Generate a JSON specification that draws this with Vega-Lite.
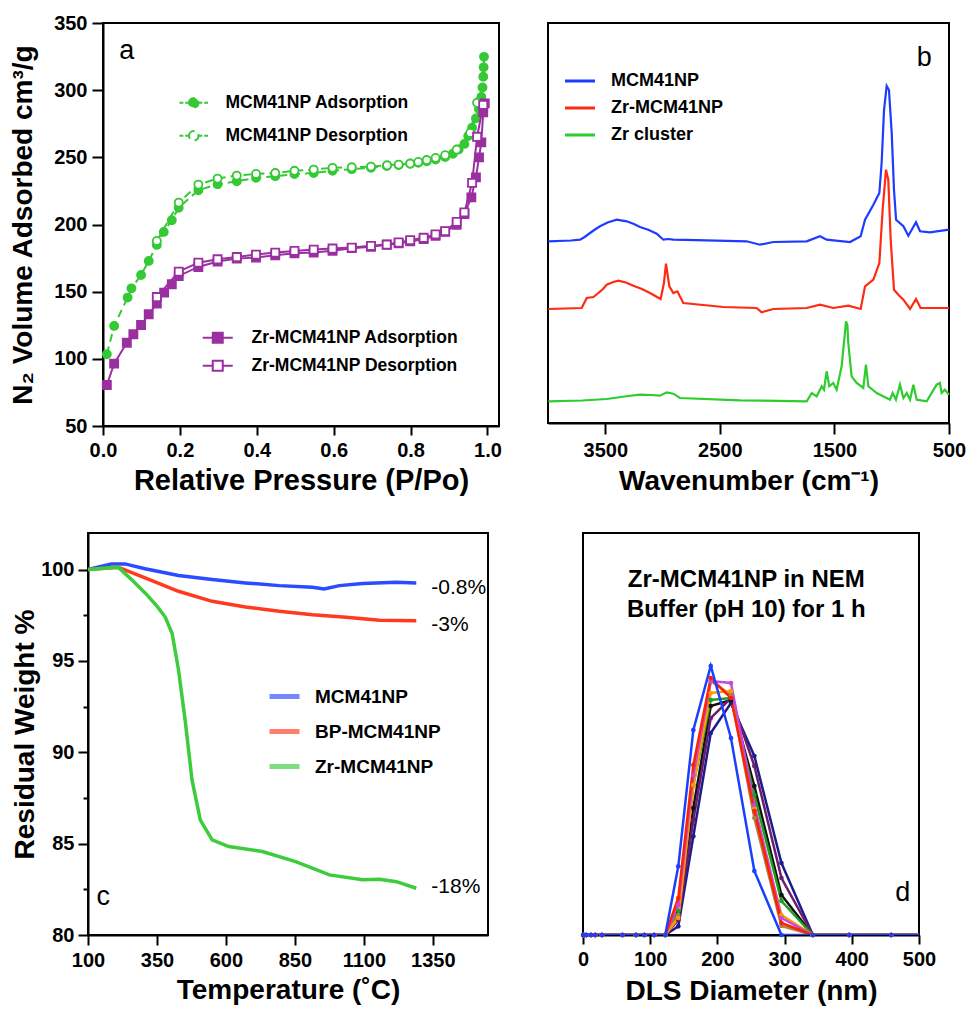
{
"$schema": "https://vega.github.io/schema/vega-lite/v6.json",
"background": "white",
"padding": {"left": 8, "top": 12, "right": 5, "bottom": 5},
"config": {
  "font": "Liberation Sans",
  "view": {"stroke": "black", "strokeWidth": 2},
  "axis": {"labelFont": "Liberation Sans", "labelFontSize": 20, "labelFontWeight": "bold", "labelColor": "black", "titleFont": "Liberation Sans", "titleFontSize": 28, "titleFontWeight": "bold", "titleColor": "black", "domainColor": "black", "domainWidth": 2, "tickColor": "black", "tickWidth": 2, "tickSize": 10, "grid": false, "labelFlush": false, "labelOverlap": false, "labelPadding": 4, "titlePadding": 6},
  "legend": {"labelFont": "Liberation Sans", "labelFontWeight": "bold", "labelColor": "black", "padding": 0, "labelLimit": 400}
},
"datasets": {
  "iso": [
    {"s":"MCM41NP Adsorption","P":0.01,"V":103.4},{"s":"MCM41NP Adsorption","P":0.029,"V":124.5},{"s":"MCM41NP Adsorption","P":0.064,"V":145.6},{"s":"MCM41NP Adsorption","P":0.074,"V":152.5},{"s":"MCM41NP Adsorption","P":0.099,"V":162.4},{"s":"MCM41NP Adsorption","P":0.119,"V":172.9},{"s":"MCM41NP Adsorption","P":0.14,"V":184.8},{"s":"MCM41NP Adsorption","P":0.158,"V":194.5},{"s":"MCM41NP Adsorption","P":0.179,"V":203.2},{"s":"MCM41NP Adsorption","P":0.197,"V":212.5},{"s":"MCM41NP Adsorption","P":0.248,"V":225.5},{"s":"MCM41NP Adsorption","P":0.298,"V":230},{"s":"MCM41NP Adsorption","P":0.348,"V":232.2},{"s":"MCM41NP Adsorption","P":0.398,"V":234.7},{"s":"MCM41NP Adsorption","P":0.448,"V":236},{"s":"MCM41NP Adsorption","P":0.498,"V":237.5},{"s":"MCM41NP Adsorption","P":0.548,"V":238.3},{"s":"MCM41NP Adsorption","P":0.597,"V":240},{"s":"MCM41NP Adsorption","P":0.647,"V":241.2},{"s":"MCM41NP Adsorption","P":0.697,"V":242.2},{"s":"MCM41NP Adsorption","P":0.738,"V":243.5},{"s":"MCM41NP Adsorption","P":0.769,"V":244.3},{"s":"MCM41NP Adsorption","P":0.799,"V":245.2},{"s":"MCM41NP Adsorption","P":0.82,"V":246},{"s":"MCM41NP Adsorption","P":0.842,"V":247.1},{"s":"MCM41NP Adsorption","P":0.865,"V":248.4},{"s":"MCM41NP Adsorption","P":0.89,"V":250.2},{"s":"MCM41NP Adsorption","P":0.91,"V":252.7},{"s":"MCM41NP Adsorption","P":0.925,"V":255.8},{"s":"MCM41NP Adsorption","P":0.94,"V":260},{"s":"MCM41NP Adsorption","P":0.95,"V":265.8},{"s":"MCM41NP Adsorption","P":0.96,"V":272},{"s":"MCM41NP Adsorption","P":0.97,"V":279},{"s":"MCM41NP Adsorption","P":0.978,"V":286},{"s":"MCM41NP Adsorption","P":0.984,"V":295},{"s":"MCM41NP Adsorption","P":0.987,"V":302},{"s":"MCM41NP Adsorption","P":0.989,"V":310},{"s":"MCM41NP Adsorption","P":0.99,"V":317},{"s":"MCM41NP Adsorption","P":0.991,"V":324.8},
    {"s":"MCM41NP Desorption","P":0.14,"V":187.8},{"s":"MCM41NP Desorption","P":0.197,"V":216.3},{"s":"MCM41NP Desorption","P":0.248,"V":229.7},{"s":"MCM41NP Desorption","P":0.298,"V":234.2},{"s":"MCM41NP Desorption","P":0.348,"V":236.4},{"s":"MCM41NP Desorption","P":0.398,"V":237.6},{"s":"MCM41NP Desorption","P":0.448,"V":238.3},{"s":"MCM41NP Desorption","P":0.498,"V":240},{"s":"MCM41NP Desorption","P":0.548,"V":240.9},{"s":"MCM41NP Desorption","P":0.597,"V":242.2},{"s":"MCM41NP Desorption","P":0.647,"V":242.6},{"s":"MCM41NP Desorption","P":0.697,"V":243.1},{"s":"MCM41NP Desorption","P":0.739,"V":244.1},{"s":"MCM41NP Desorption","P":0.769,"V":244.6},{"s":"MCM41NP Desorption","P":0.799,"V":245.4},{"s":"MCM41NP Desorption","P":0.82,"V":246.6},{"s":"MCM41NP Desorption","P":0.842,"V":248},{"s":"MCM41NP Desorption","P":0.865,"V":249.6},{"s":"MCM41NP Desorption","P":0.89,"V":251.6},{"s":"MCM41NP Desorption","P":0.92,"V":255.8},{"s":"MCM41NP Desorption","P":0.955,"V":268.2},{"s":"MCM41NP Desorption","P":0.973,"V":290.6},
    {"s":"Zr-MCM41NP Adsorption","P":0.01,"V":80.5},{"s":"Zr-MCM41NP Adsorption","P":0.029,"V":96.4},{"s":"Zr-MCM41NP Adsorption","P":0.062,"V":112},{"s":"Zr-MCM41NP Adsorption","P":0.079,"V":118.3},{"s":"Zr-MCM41NP Adsorption","P":0.099,"V":125.2},{"s":"Zr-MCM41NP Adsorption","P":0.119,"V":133.2},{"s":"Zr-MCM41NP Adsorption","P":0.14,"V":141.1},{"s":"Zr-MCM41NP Adsorption","P":0.159,"V":149.3},{"s":"Zr-MCM41NP Adsorption","P":0.179,"V":155.5},{"s":"Zr-MCM41NP Adsorption","P":0.197,"V":161.7},{"s":"Zr-MCM41NP Adsorption","P":0.248,"V":168.4},{"s":"Zr-MCM41NP Adsorption","P":0.298,"V":172.4},{"s":"Zr-MCM41NP Adsorption","P":0.348,"V":174.6},{"s":"Zr-MCM41NP Adsorption","P":0.398,"V":175.4},{"s":"Zr-MCM41NP Adsorption","P":0.448,"V":177.1},{"s":"Zr-MCM41NP Adsorption","P":0.498,"V":178.6},{"s":"Zr-MCM41NP Adsorption","P":0.548,"V":179.1},{"s":"Zr-MCM41NP Adsorption","P":0.597,"V":180.4},{"s":"Zr-MCM41NP Adsorption","P":0.647,"V":182.4},{"s":"Zr-MCM41NP Adsorption","P":0.697,"V":183.4},{"s":"Zr-MCM41NP Adsorption","P":0.738,"V":184.9},{"s":"Zr-MCM41NP Adsorption","P":0.769,"V":185.9},{"s":"Zr-MCM41NP Adsorption","P":0.799,"V":187.4},{"s":"Zr-MCM41NP Adsorption","P":0.834,"V":189.1},{"s":"Zr-MCM41NP Adsorption","P":0.865,"V":191.6},{"s":"Zr-MCM41NP Adsorption","P":0.89,"V":194.6},{"s":"Zr-MCM41NP Adsorption","P":0.92,"V":199.8},{"s":"Zr-MCM41NP Adsorption","P":0.94,"V":207.8},{"s":"Zr-MCM41NP Adsorption","P":0.958,"V":220.2},{"s":"Zr-MCM41NP Adsorption","P":0.97,"V":235.1},{"s":"Zr-MCM41NP Adsorption","P":0.978,"V":250},{"s":"Zr-MCM41NP Adsorption","P":0.984,"V":261.1},{"s":"Zr-MCM41NP Adsorption","P":0.989,"V":283.5},{"s":"Zr-MCM41NP Adsorption","P":0.993,"V":290.2},
    {"s":"Zr-MCM41NP Desorption","P":0.14,"V":146},{"s":"Zr-MCM41NP Desorption","P":0.197,"V":164.9},{"s":"Zr-MCM41NP Desorption","P":0.248,"V":171.6},{"s":"Zr-MCM41NP Desorption","P":0.298,"V":174.1},{"s":"Zr-MCM41NP Desorption","P":0.348,"V":175.8},{"s":"Zr-MCM41NP Desorption","P":0.398,"V":177.6},{"s":"Zr-MCM41NP Desorption","P":0.448,"V":179.1},{"s":"Zr-MCM41NP Desorption","P":0.498,"V":180.3},{"s":"Zr-MCM41NP Desorption","P":0.548,"V":181.3},{"s":"Zr-MCM41NP Desorption","P":0.597,"V":182.1},{"s":"Zr-MCM41NP Desorption","P":0.647,"V":182.8},{"s":"Zr-MCM41NP Desorption","P":0.697,"V":184.1},{"s":"Zr-MCM41NP Desorption","P":0.738,"V":185.1},{"s":"Zr-MCM41NP Desorption","P":0.769,"V":186.6},{"s":"Zr-MCM41NP Desorption","P":0.799,"V":188.3},{"s":"Zr-MCM41NP Desorption","P":0.834,"V":190.1},{"s":"Zr-MCM41NP Desorption","P":0.865,"V":192.6},{"s":"Zr-MCM41NP Desorption","P":0.89,"V":195},{"s":"Zr-MCM41NP Desorption","P":0.92,"V":202},{"s":"Zr-MCM41NP Desorption","P":0.94,"V":209},{"s":"Zr-MCM41NP Desorption","P":0.96,"V":231},{"s":"Zr-MCM41NP Desorption","P":0.973,"V":265.3},{"s":"Zr-MCM41NP Desorption","P":0.989,"V":289}
  ],
  "ftir": [
    {"s":"MCM41NP","wn":3997,"v":181.7},{"s":"MCM41NP","wn":3800,"v":182.5},{"s":"MCM41NP","wn":3720,"v":183.3},{"s":"MCM41NP","wn":3680,"v":186},{"s":"MCM41NP","wn":3633,"v":190},{"s":"MCM41NP","wn":3590,"v":193.5},{"s":"MCM41NP","wn":3546,"v":196.7},{"s":"MCM41NP","wn":3480,"v":200.5},{"s":"MCM41NP","wn":3400,"v":203.3},{"s":"MCM41NP","wn":3313,"v":201.7},{"s":"MCM41NP","wn":3250,"v":199},{"s":"MCM41NP","wn":3197,"v":196},{"s":"MCM41NP","wn":3120,"v":193},{"s":"MCM41NP","wn":3051,"v":189.3},{"s":"MCM41NP","wn":2993,"v":183.3},{"s":"MCM41NP","wn":2950,"v":184},{"s":"MCM41NP","wn":2906,"v":183.3},{"s":"MCM41NP","wn":2615,"v":182.7},{"s":"MCM41NP","wn":2266,"v":181.7},{"s":"MCM41NP","wn":2150,"v":178.3},{"s":"MCM41NP","wn":2033,"v":181},{"s":"MCM41NP","wn":1742,"v":181.7},{"s":"MCM41NP","wn":1626,"v":186.7},{"s":"MCM41NP","wn":1568,"v":183.3},{"s":"MCM41NP","wn":1364,"v":181},{"s":"MCM41NP","wn":1271,"v":186.7},{"s":"MCM41NP","wn":1233,"v":203.3},{"s":"MCM41NP","wn":1160,"v":218.3},{"s":"MCM41NP","wn":1108,"v":230},{"s":"MCM41NP","wn":1088,"v":260},{"s":"MCM41NP","wn":1067,"v":313},{"s":"MCM41NP","wn":1044,"v":337},{"s":"MCM41NP","wn":1024,"v":333},{"s":"MCM41NP","wn":1000,"v":290},{"s":"MCM41NP","wn":980,"v":233},{"s":"MCM41NP","wn":962,"v":203.3},{"s":"MCM41NP","wn":898,"v":196.7},{"s":"MCM41NP","wn":855,"v":187.3},{"s":"MCM41NP","wn":788,"v":200.7},{"s":"MCM41NP","wn":753,"v":191.7},{"s":"MCM41NP","wn":666,"v":190.7},{"s":"MCM41NP","wn":500,"v":193.3},
    {"s":"Zr-MCM41NP","wn":3997,"v":114},{"s":"Zr-MCM41NP","wn":3706,"v":115},{"s":"Zr-MCM41NP","wn":3662,"v":125},{"s":"Zr-MCM41NP","wn":3604,"v":126},{"s":"Zr-MCM41NP","wn":3560,"v":130},{"s":"Zr-MCM41NP","wn":3520,"v":134},{"s":"Zr-MCM41NP","wn":3488,"v":138.3},{"s":"Zr-MCM41NP","wn":3430,"v":141},{"s":"Zr-MCM41NP","wn":3386,"v":142.3},{"s":"Zr-MCM41NP","wn":3320,"v":140.5},{"s":"Zr-MCM41NP","wn":3255,"v":137.3},{"s":"Zr-MCM41NP","wn":3180,"v":134},{"s":"Zr-MCM41NP","wn":3110,"v":130},{"s":"Zr-MCM41NP","wn":3017,"v":124},{"s":"Zr-MCM41NP","wn":2988,"v":140},{"s":"Zr-MCM41NP","wn":2970,"v":159.3},{"s":"Zr-MCM41NP","wn":2941,"v":136.7},{"s":"Zr-MCM41NP","wn":2906,"v":130},{"s":"Zr-MCM41NP","wn":2871,"v":131.7},{"s":"Zr-MCM41NP","wn":2819,"v":120},{"s":"Zr-MCM41NP","wn":2470,"v":116},{"s":"Zr-MCM41NP","wn":2179,"v":115},{"s":"Zr-MCM41NP","wn":2135,"v":110.7},{"s":"Zr-MCM41NP","wn":2033,"v":114},{"s":"Zr-MCM41NP","wn":1742,"v":115},{"s":"Zr-MCM41NP","wn":1626,"v":118.3},{"s":"Zr-MCM41NP","wn":1510,"v":115},{"s":"Zr-MCM41NP","wn":1379,"v":117.3},{"s":"Zr-MCM41NP","wn":1271,"v":114},{"s":"Zr-MCM41NP","wn":1233,"v":136.7},{"s":"Zr-MCM41NP","wn":1160,"v":143.3},{"s":"Zr-MCM41NP","wn":1108,"v":160},{"s":"Zr-MCM41NP","wn":1079,"v":213.3},{"s":"Zr-MCM41NP","wn":1050,"v":253.3},{"s":"Zr-MCM41NP","wn":1030,"v":243.3},{"s":"Zr-MCM41NP","wn":1009,"v":183.3},{"s":"Zr-MCM41NP","wn":980,"v":133.3},{"s":"Zr-MCM41NP","wn":942,"v":128.3},{"s":"Zr-MCM41NP","wn":898,"v":123.3},{"s":"Zr-MCM41NP","wn":840,"v":114},{"s":"Zr-MCM41NP","wn":788,"v":124},{"s":"Zr-MCM41NP","wn":748,"v":115},{"s":"Zr-MCM41NP","wn":500,"v":115},
    {"s":"Zr cluster","wn":3997,"v":21.7},{"s":"Zr cluster","wn":3700,"v":22.5},{"s":"Zr cluster","wn":3488,"v":24},{"s":"Zr cluster","wn":3300,"v":27},{"s":"Zr cluster","wn":3197,"v":28.3},{"s":"Zr cluster","wn":3100,"v":28},{"s":"Zr cluster","wn":3022,"v":27.3},{"s":"Zr cluster","wn":2964,"v":30.7},{"s":"Zr cluster","wn":2906,"v":29.3},{"s":"Zr cluster","wn":2848,"v":25},{"s":"Zr cluster","wn":2324,"v":22.7},{"s":"Zr cluster","wn":1742,"v":21.7},{"s":"Zr cluster","wn":1698,"v":30},{"s":"Zr cluster","wn":1655,"v":26.7},{"s":"Zr cluster","wn":1611,"v":36.7},{"s":"Zr cluster","wn":1591,"v":33.3},{"s":"Zr cluster","wn":1568,"v":51.7},{"s":"Zr cluster","wn":1545,"v":36.7},{"s":"Zr cluster","wn":1510,"v":40},{"s":"Zr cluster","wn":1481,"v":33.3},{"s":"Zr cluster","wn":1437,"v":56.7},{"s":"Zr cluster","wn":1417,"v":80},{"s":"Zr cluster","wn":1399,"v":101.7},{"s":"Zr cluster","wn":1387,"v":98},{"s":"Zr cluster","wn":1379,"v":80},{"s":"Zr cluster","wn":1350,"v":46.7},{"s":"Zr cluster","wn":1306,"v":40},{"s":"Zr cluster","wn":1248,"v":35},{"s":"Zr cluster","wn":1225,"v":58.3},{"s":"Zr cluster","wn":1204,"v":36.7},{"s":"Zr cluster","wn":1131,"v":30},{"s":"Zr cluster","wn":1015,"v":23.3},{"s":"Zr cluster","wn":992,"v":30},{"s":"Zr cluster","wn":963,"v":23.3},{"s":"Zr cluster","wn":928,"v":38.3},{"s":"Zr cluster","wn":898,"v":25},{"s":"Zr cluster","wn":869,"v":30},{"s":"Zr cluster","wn":840,"v":23.3},{"s":"Zr cluster","wn":811,"v":38.3},{"s":"Zr cluster","wn":782,"v":23.3},{"s":"Zr cluster","wn":695,"v":21.7},{"s":"Zr cluster","wn":608,"v":38.3},{"s":"Zr cluster","wn":579,"v":40},{"s":"Zr cluster","wn":565,"v":30},{"s":"Zr cluster","wn":536,"v":33.3},{"s":"Zr cluster","wn":500,"v":28.3}
  ],
  "tga": [
    {"s":"MCM41NP","T":100,"w":100},{"s":"MCM41NP","T":185,"w":100.31},{"s":"MCM41NP","T":234,"w":100.31},{"s":"MCM41NP","T":307,"w":100.04},{"s":"MCM41NP","T":428,"w":99.67},{"s":"MCM41NP","T":550,"w":99.45},{"s":"MCM41NP","T":671,"w":99.27},{"s":"MCM41NP","T":793,"w":99.12},{"s":"MCM41NP","T":914,"w":99.03},{"s":"MCM41NP","T":956,"w":98.94},{"s":"MCM41NP","T":1011,"w":99.12},{"s":"MCM41NP","T":1096,"w":99.23},{"s":"MCM41NP","T":1218,"w":99.3},{"s":"MCM41NP","T":1290,"w":99.27},
    {"s":"BP-MCM41NP","T":100,"w":100},{"s":"BP-MCM41NP","T":209,"w":100.13},{"s":"BP-MCM41NP","T":307,"w":99.54},{"s":"BP-MCM41NP","T":428,"w":98.81},{"s":"BP-MCM41NP","T":550,"w":98.26},{"s":"BP-MCM41NP","T":671,"w":97.95},{"s":"BP-MCM41NP","T":793,"w":97.72},{"s":"BP-MCM41NP","T":914,"w":97.53},{"s":"BP-MCM41NP","T":1036,"w":97.39},{"s":"BP-MCM41NP","T":1157,"w":97.22},{"s":"BP-MCM41NP","T":1290,"w":97.2},
    {"s":"Zr-MCM41NP","T":100,"w":100},{"s":"Zr-MCM41NP","T":209,"w":100.13},{"s":"Zr-MCM41NP","T":258,"w":99.45},{"s":"Zr-MCM41NP","T":307,"w":98.72},{"s":"Zr-MCM41NP","T":350,"w":98.0},{"s":"Zr-MCM41NP","T":380,"w":97.4},{"s":"Zr-MCM41NP","T":405,"w":96.5},{"s":"Zr-MCM41NP","T":428,"w":94.52},{"s":"Zr-MCM41NP","T":452,"w":91.78},{"s":"Zr-MCM41NP","T":477,"w":88.49},{"s":"Zr-MCM41NP","T":507,"w":86.3},{"s":"Zr-MCM41NP","T":550,"w":85.21},{"s":"Zr-MCM41NP","T":610,"w":84.84},{"s":"Zr-MCM41NP","T":732,"w":84.57},{"s":"Zr-MCM41NP","T":853,"w":84.02},{"s":"Zr-MCM41NP","T":975,"w":83.29},{"s":"Zr-MCM41NP","T":1096,"w":83.02},{"s":"Zr-MCM41NP","T":1157,"w":83.05},{"s":"Zr-MCM41NP","T":1218,"w":82.92},{"s":"Zr-MCM41NP","T":1290,"w":82.56}
  ],
  "tgalab": [
    {"label":"-0.8%","T":1290,"w":99.0},{"label":"-3%","T":1290,"w":96.99},{"label":"-18%","T":1290,"w":82.63}
  ],
  "dls": [
    {"r":"s1","d":0.4,"v":0},{"r":"s1","d":1.3,"v":0},{"r":"s1","d":4.8,"v":0},{"r":"s1","d":11.7,"v":0},{"r":"s1","d":18.2,"v":0},{"r":"s1","d":28.2,"v":0},{"r":"s1","d":58.8,"v":0},{"r":"s1","d":78.8,"v":0},{"r":"s1","d":91.3,"v":0},{"r":"s1","d":106,"v":0},{"r":"s1","d":122.4,"v":0},{"r":"s1","d":141.8,"v":8.7},{"r":"s1","d":164.2,"v":98.7},{"r":"s1","d":190.1,"v":202},{"r":"s1","d":220.2,"v":232},{"r":"s1","d":255,"v":179},{"r":"s1","d":295.3,"v":72},{"r":"s1","d":342,"v":0},{"r":"s1","d":396.1,"v":0},{"r":"s1","d":458.7,"v":0},{"r":"s1","d":531.2,"v":0},
    {"r":"s2","d":0.4,"v":0},{"r":"s2","d":1.3,"v":0},{"r":"s2","d":4.8,"v":0},{"r":"s2","d":11.7,"v":0},{"r":"s2","d":18.2,"v":0},{"r":"s2","d":28.2,"v":0},{"r":"s2","d":58.8,"v":0},{"r":"s2","d":78.8,"v":0},{"r":"s2","d":91.3,"v":0},{"r":"s2","d":106,"v":0},{"r":"s2","d":122.4,"v":0},{"r":"s2","d":141.8,"v":22},{"r":"s2","d":164.2,"v":127},{"r":"s2","d":190.1,"v":229},{"r":"s2","d":220.2,"v":235},{"r":"s2","d":255,"v":149},{"r":"s2","d":295.3,"v":40},{"r":"s2","d":342,"v":0},{"r":"s2","d":396.1,"v":0},{"r":"s2","d":458.7,"v":0},{"r":"s2","d":531.2,"v":0},
    {"r":"s3","d":0.4,"v":0},{"r":"s3","d":1.3,"v":0},{"r":"s3","d":4.8,"v":0},{"r":"s3","d":11.7,"v":0},{"r":"s3","d":18.2,"v":0},{"r":"s3","d":28.2,"v":0},{"r":"s3","d":58.8,"v":0},{"r":"s3","d":78.8,"v":0},{"r":"s3","d":91.3,"v":0},{"r":"s3","d":106,"v":0},{"r":"s3","d":122.4,"v":0},{"r":"s3","d":141.8,"v":15},{"r":"s3","d":164.2,"v":115},{"r":"s3","d":190.1,"v":217},{"r":"s3","d":220.2,"v":237},{"r":"s3","d":255,"v":169},{"r":"s3","d":295.3,"v":57},{"r":"s3","d":342,"v":0},{"r":"s3","d":396.1,"v":0},{"r":"s3","d":458.7,"v":0},{"r":"s3","d":531.2,"v":0},
    {"r":"s4","d":0.4,"v":0},{"r":"s4","d":1.3,"v":0},{"r":"s4","d":4.8,"v":0},{"r":"s4","d":11.7,"v":0},{"r":"s4","d":18.2,"v":0},{"r":"s4","d":28.2,"v":0},{"r":"s4","d":58.8,"v":0},{"r":"s4","d":78.8,"v":0},{"r":"s4","d":91.3,"v":0},{"r":"s4","d":106,"v":0},{"r":"s4","d":122.4,"v":0},{"r":"s4","d":141.8,"v":24},{"r":"s4","d":164.2,"v":150},{"r":"s4","d":190.1,"v":235},{"r":"s4","d":220.2,"v":237},{"r":"s4","d":255,"v":140},{"r":"s4","d":295.3,"v":34},{"r":"s4","d":342,"v":0},{"r":"s4","d":396.1,"v":0},{"r":"s4","d":458.7,"v":0},{"r":"s4","d":531.2,"v":0},
    {"r":"s5","d":0.4,"v":0},{"r":"s5","d":1.3,"v":0},{"r":"s5","d":4.8,"v":0},{"r":"s5","d":11.7,"v":0},{"r":"s5","d":18.2,"v":0},{"r":"s5","d":28.2,"v":0},{"r":"s5","d":58.8,"v":0},{"r":"s5","d":78.8,"v":0},{"r":"s5","d":91.3,"v":0},{"r":"s5","d":106,"v":0},{"r":"s5","d":122.4,"v":0},{"r":"s5","d":141.8,"v":20},{"r":"s5","d":164.2,"v":150},{"r":"s5","d":190.1,"v":254},{"r":"s5","d":220.2,"v":240},{"r":"s5","d":255,"v":117},{"r":"s5","d":295.3,"v":9},{"r":"s5","d":342,"v":0},{"r":"s5","d":396.1,"v":0},{"r":"s5","d":458.7,"v":0},{"r":"s5","d":531.2,"v":0},
    {"r":"s6","d":0.4,"v":0},{"r":"s6","d":1.3,"v":0},{"r":"s6","d":4.8,"v":0},{"r":"s6","d":11.7,"v":0},{"r":"s6","d":18.2,"v":0},{"r":"s6","d":28.2,"v":0},{"r":"s6","d":58.8,"v":0},{"r":"s6","d":78.8,"v":0},{"r":"s6","d":91.3,"v":0},{"r":"s6","d":106,"v":0},{"r":"s6","d":122.4,"v":0},{"r":"s6","d":141.8,"v":17},{"r":"s6","d":164.2,"v":150},{"r":"s6","d":190.1,"v":242},{"r":"s6","d":220.2,"v":244},{"r":"s6","d":255,"v":127},{"r":"s6","d":295.3,"v":20},{"r":"s6","d":342,"v":0},{"r":"s6","d":396.1,"v":0},{"r":"s6","d":458.7,"v":0},{"r":"s6","d":531.2,"v":0},
    {"r":"s7","d":0.4,"v":0},{"r":"s7","d":1.3,"v":0},{"r":"s7","d":4.8,"v":0},{"r":"s7","d":11.7,"v":0},{"r":"s7","d":18.2,"v":0},{"r":"s7","d":28.2,"v":0},{"r":"s7","d":58.8,"v":0},{"r":"s7","d":78.8,"v":0},{"r":"s7","d":91.3,"v":0},{"r":"s7","d":106,"v":0},{"r":"s7","d":122.4,"v":0},{"r":"s7","d":141.8,"v":30},{"r":"s7","d":164.2,"v":160},{"r":"s7","d":190.1,"v":254},{"r":"s7","d":220.2,"v":252},{"r":"s7","d":255,"v":130},{"r":"s7","d":295.3,"v":17},{"r":"s7","d":342,"v":0},{"r":"s7","d":396.1,"v":0},{"r":"s7","d":458.7,"v":0},{"r":"s7","d":531.2,"v":0},
    {"r":"s8","d":0.4,"v":0},{"r":"s8","d":1.3,"v":0},{"r":"s8","d":4.8,"v":0},{"r":"s8","d":11.7,"v":0},{"r":"s8","d":18.2,"v":0},{"r":"s8","d":28.2,"v":0},{"r":"s8","d":58.8,"v":0},{"r":"s8","d":78.8,"v":0},{"r":"s8","d":91.3,"v":0},{"r":"s8","d":106,"v":0},{"r":"s8","d":122.4,"v":0},{"r":"s8","d":141.8,"v":37},{"r":"s8","d":164.2,"v":170},{"r":"s8","d":190.1,"v":257},{"r":"s8","d":220.2,"v":237},{"r":"s8","d":255,"v":124},{"r":"s8","d":295.3,"v":12},{"r":"s8","d":342,"v":0},{"r":"s8","d":396.1,"v":0},{"r":"s8","d":458.7,"v":0},{"r":"s8","d":531.2,"v":0},
    {"r":"s9","d":0.4,"v":0},{"r":"s9","d":1.3,"v":0},{"r":"s9","d":4.8,"v":0},{"r":"s9","d":11.7,"v":0},{"r":"s9","d":18.2,"v":0},{"r":"s9","d":28.2,"v":0},{"r":"s9","d":58.8,"v":0},{"r":"s9","d":78.8,"v":0},{"r":"s9","d":91.3,"v":0},{"r":"s9","d":106,"v":0},{"r":"s9","d":122.4,"v":0},{"r":"s9","d":141.8,"v":68.7},{"r":"s9","d":164.2,"v":205},{"r":"s9","d":190.1,"v":269},{"r":"s9","d":220.2,"v":197},{"r":"s9","d":255,"v":64},{"r":"s9","d":295.3,"v":0},{"r":"s9","d":342,"v":0},{"r":"s9","d":396.1,"v":0},{"r":"s9","d":458.7,"v":0},{"r":"s9","d":531.2,"v":0}
  ]
},
"columns": 1,
"spacing": 36,
"resolve": {"scale": {"color": "independent", "stroke": "independent", "fill": "independent", "shape": "independent", "strokeDash": "independent", "x": "independent", "y": "independent"}},
"concat": [
  {
    "hconcat": [
      {
        "width": 1, "height": 10,
        "view": {"stroke": null},
        "data": {"values": [{"k": 0}]},
        "mark": {"type": "point", "opacity": 0}
      },
      {
        "hconcat": [
          {
            "width": 396, "height": 403,
            "layer": [
              {
                "data": {"name": "iso"},
                "transform": [{"filter": {"field": "s", "oneOf": ["MCM41NP Adsorption", "MCM41NP Desorption"]}}],
                "encoding": {
                  "x": {"field": "P", "type": "quantitative", "scale": {"domain": [0, 1.03], "nice": false, "zero": false},
                    "axis": {"title": "Relative Pressure (P/Po)", "titleFontSize": 29, "values": [0,0.1,0.2,0.3,0.4,0.5,0.6,0.7,0.8,0.9,1.0], "labelExpr": "round(datum.value*10)%2==0 ? format(datum.value,'.1f') : ''", "tickSize": {"condition": {"test": "round(datum.value*10)%2==0", "value": 9}, "value": 5}, "labelPadding": 5, "titlePadding": 6}},
                  "y": {"field": "V", "type": "quantitative", "scale": {"domain": [50, 350], "nice": false, "zero": false},
                    "axis": {"title": "N₂ Volume Adsorbed cm³/g", "values": [50,75,100,125,150,175,200,225,250,275,300,325,350], "labelExpr": "datum.value%50==0 ? datum.label : ''", "tickSize": {"condition": {"test": "datum.value%50==0", "value": 11}, "value": 5}, "labelPadding": 5, "titlePadding": 16}}
                },
                "layer": [
                  {"mark": {"type": "line", "strokeWidth": 2},
                   "encoding": {
                     "stroke": {"field": "s", "type": "nominal", "scale": {"domain": ["MCM41NP Adsorption", "MCM41NP Desorption"], "range": ["#35c935", "#35c935"]},
                       "legend": {"title": null, "orient": "none", "legendX": 82, "legendY": 71, "symbolType": "M-3,0H-2.2M-1.8,0H-1M1,0H1.8M2.2,0H3M-1,0A1,1 0 1,1 1,0A1,1 0 1,1 -1,0Z", "symbolSize": 90, "symbolStrokeWidth": 2, "labelFontSize": 17.5, "labelOffset": 23, "rowPadding": 14,
                         "encode": {"symbols": {"update": {"shape": {"value": "M-3,0H-2.2M-1.8,0H-1M1,0H1.8M2.2,0H3M-1,0A1,1 0 1,1 1,0A1,1 0 1,1 -1,0Z"}, "fill": {"signal": "datum.value == 'MCM41NP Adsorption' ? '#35c935' : 'white'"}, "opacity": {"value": 1}}}}}},
                     "strokeDash": {"field": "s", "type": "nominal", "scale": {"domain": ["MCM41NP Adsorption", "MCM41NP Desorption"], "range": [[8,5],[8,5]]}, "legend": null},
                     "order": {"field": "V", "type": "quantitative"}
                   }},
                  {"mark": {"type": "point", "filled": true, "shape": "circle", "size": 65, "strokeWidth": 1.8, "opacity": 1, "stroke": "#35c935"},
                   "encoding": {
                     "fill": {"field": "s", "type": "nominal", "scale": {"domain": ["MCM41NP Adsorption", "MCM41NP Desorption"], "range": ["#35c935", "white"]}, "legend": null}
                   }}
                ]
              },
              {
                "data": {"name": "iso"},
                "transform": [{"filter": {"field": "s", "oneOf": ["Zr-MCM41NP Adsorption", "Zr-MCM41NP Desorption"]}}],
                "encoding": {
                  "x": {"field": "P", "type": "quantitative"},
                  "y": {"field": "V", "type": "quantitative"}
                },
                "layer": [
                  {"mark": {"type": "line", "strokeWidth": 2},
                   "encoding": {
                     "stroke": {"field": "s", "type": "nominal", "scale": {"domain": ["Zr-MCM41NP Adsorption", "Zr-MCM41NP Desorption"], "range": ["#9a2fa0", "#9a2fa0"]},
                       "legend": {"title": null, "orient": "none", "legendX": 106, "legendY": 306, "symbolType": "M-3,0H-1M1,0H3M-1,-1H1V1H-1Z", "symbolSize": 100, "symbolStrokeWidth": 2, "labelFontSize": 17.5, "labelOffset": 25, "rowPadding": 9,
                         "encode": {"symbols": {"update": {"shape": {"value": "M-3,0H-1M1,0H3M-1,-1H1V1H-1Z"}, "fill": {"signal": "datum.value == 'Zr-MCM41NP Adsorption' ? '#9a2fa0' : 'white'"}, "opacity": {"value": 1}}}}}},
                     "order": {"field": "V", "type": "quantitative"}
                   }},
                  {"mark": {"type": "point", "filled": true, "shape": "square", "size": 65, "strokeWidth": 1.8, "opacity": 1, "stroke": "#9a2fa0"},
                   "encoding": {
                     "fill": {"field": "s", "type": "nominal", "scale": {"domain": ["Zr-MCM41NP Adsorption", "Zr-MCM41NP Desorption"], "range": ["#9a2fa0", "white"]}, "legend": null}
                   }}
                ]
              },
              {
                "data": {"values": [{"t": "a"}]},
                "mark": {"type": "text", "fontSize": 27, "font": "Liberation Sans", "color": "black"},
                "encoding": {"x": {"datum": 0.062, "type": "quantitative"}, "y": {"datum": 329, "type": "quantitative"}, "text": {"field": "t", "type": "nominal"}}
              }
            ],
            "resolve": {"scale": {"stroke": "independent", "fill": "independent", "strokeDash": "independent"}}
          },
          {
            "width": 401, "height": 400,
            "layer": [
              {
                "data": {"name": "ftir"},
                "mark": {"type": "line", "strokeWidth": 2.2},
                "encoding": {
                  "x": {"field": "wn", "type": "quantitative", "scale": {"domain": [4000, 500], "nice": false, "zero": false},
                    "axis": {"title": "Wavenumber (cm⁻¹)", "values": [3500, 2500, 1500, 500], "format": "d", "tickSize": 11, "labelPadding": 6, "titlePadding": 7}},
                  "y": {"field": "v", "type": "quantitative", "scale": {"domain": [0, 400], "nice": false}, "axis": null},
                  "color": {"field": "s", "type": "nominal", "scale": {"domain": ["MCM41NP", "Zr-MCM41NP", "Zr cluster"], "range": ["#1f3bff", "#ff2a12", "#2ecc2e"]},
                    "legend": {"title": null, "orient": "none", "legendX": 23, "legendY": 49, "symbolType": "M-3,0H3", "symbolSize": 100, "symbolStrokeWidth": 3, "labelFontSize": 18, "labelOffset": 22, "rowPadding": 9}}
                }
              },
              {
                "data": {"values": [{"t": "b"}]},
                "mark": {"type": "text", "fontSize": 27, "font": "Liberation Sans", "color": "black"},
                "encoding": {"x": {"datum": 716, "type": "quantitative"}, "y": {"datum": 365, "type": "quantitative", "axis": null}, "text": {"field": "t", "type": "nominal"}}
              }
            ]
          }
        ],
        "spacing": 49,
        "bounds": "flush",
        "resolve": {"scale": {"color": "independent", "stroke": "independent", "fill": "independent", "strokeDash": "independent"}}
      }
    ],
    "spacing": 14,
    "bounds": "flush"
  },
  {
    "hconcat": [
      {
        "width": 400, "height": 402,
        "layer": [
          {
            "data": {"name": "tga"},
            "mark": {"type": "line", "strokeWidth": 3.5},
            "encoding": {
              "x": {"field": "T", "type": "quantitative", "scale": {"domain": [100, 1550], "nice": false, "zero": false},
                "axis": {"title": "Temperature (˚C)", "values": [100, 350, 600, 850, 1100, 1350], "format": "d", "tickSize": 10, "labelPadding": 5, "titlePadding": 6}},
              "y": {"field": "w", "type": "quantitative", "scale": {"domain": [80, 102], "nice": false, "zero": false},
                "axis": {"title": "Residual Weight %", "values": [80,82.5,85,87.5,90,92.5,95,97.5,100], "labelExpr": "datum.value%5==0 ? datum.label : ''", "tickSize": {"condition": {"test": "datum.value%5==0", "value": 10}, "value": 5}, "labelPadding": 4, "titlePadding": 1}},
              "color": {"field": "s", "type": "nominal", "scale": {"domain": ["MCM41NP", "BP-MCM41NP", "Zr-MCM41NP"], "range": ["#2a4bff", "#ff3a1f", "#3ccc3c"]},
                "legend": {"title": null, "orient": "none", "legendX": 187, "legendY": 154, "symbolType": "M-3,0H3", "symbolSize": 100, "symbolStrokeWidth": 5, "symbolOpacity": 0.65, "labelFontSize": 19, "labelOffset": 21, "rowPadding": 14}}
            }
          },
          {
            "data": {"name": "tgalab"},
            "mark": {"type": "text", "align": "left", "baseline": "middle", "dx": 15, "fontSize": 21, "font": "Liberation Sans", "color": "black"},
            "encoding": {"x": {"field": "T", "type": "quantitative"}, "y": {"field": "w", "type": "quantitative"}, "text": {"field": "label"}}
          },
          {
            "data": {"values": [{"t": "c"}]},
            "mark": {"type": "text", "fontSize": 27, "font": "Liberation Sans", "color": "black"},
            "encoding": {"x": {"datum": 155, "type": "quantitative"}, "y": {"datum": 82.1, "type": "quantitative"}, "text": {"field": "t", "type": "nominal"}}
          }
        ]
      },
      {
        "width": 336, "height": 402,
        "layer": [
          {
            "data": {"name": "dls"},
            "mark": {"type": "line", "strokeWidth": 2.5, "clip": true},
            "encoding": {
              "x": {"field": "d", "type": "quantitative", "scale": {"domain": [0, 500], "nice": false, "zero": false},
                "axis": {"title": "DLS Diameter (nm)", "values": [0,50,100,150,200,250,300,350,400,450,500], "labelExpr": "datum.value%100==0 ? datum.label : ''", "tickSize": {"condition": {"test": "datum.value%100==0", "value": 9}, "value": 5}, "labelPadding": 5, "titlePadding": 8}},
              "y": {"field": "v", "type": "quantitative", "scale": {"domain": [0, 402], "nice": false}, "axis": null},
              "color": {"field": "r", "type": "nominal", "scale": {"domain": ["s1","s2","s3","s4","s5","s6","s7","s8","s9"], "range": ["#1c1c8c","#111111","#6b1f6b","#1e9e1e","#a8844a","#ff9a00","#c04be0","#ff2200","#1a40ff"]}, "legend": null}
            }
          },
          {
            "data": {"name": "dls"},
            "transform": [{"filter": "datum.d <= 500"}],
            "mark": {"type": "point", "filled": true, "size": 22, "opacity": 1},
            "encoding": {
              "x": {"field": "d", "type": "quantitative"},
              "y": {"field": "v", "type": "quantitative", "axis": null},
              "color": {"field": "r", "type": "nominal", "scale": {"domain": ["s1","s2","s3","s4","s5","s6","s7","s8","s9"], "range": ["#1c1c8c","#111111","#6b1f6b","#1e9e1e","#a8844a","#ff9a00","#c04be0","#ff2200","#1a40ff"]}, "legend": null}
            }
          },
          {
            "data": {"values": [{"t1": "Zr-MCM41NP in NEM", "t2": "Buffer (pH 10) for 1 h"}]},
            "mark": {"type": "text", "fontSize": 24, "fontWeight": "bold", "font": "Liberation Sans", "color": "black"},
            "encoding": {"x": {"datum": 243, "type": "quantitative"}, "y": {"datum": 355, "type": "quantitative", "axis": null}, "text": {"field": "t1", "type": "nominal"}}
          },
          {
            "data": {"values": [{"t1": "Zr-MCM41NP in NEM", "t2": "Buffer (pH 10) for 1 h"}]},
            "mark": {"type": "text", "fontSize": 24, "fontWeight": "bold", "font": "Liberation Sans", "color": "black"},
            "encoding": {"x": {"datum": 243, "type": "quantitative"}, "y": {"datum": 325, "type": "quantitative", "axis": null}, "text": {"field": "t2", "type": "nominal"}}
          },
          {
            "data": {"values": [{"t": "d"}]},
            "mark": {"type": "text", "fontSize": 27, "font": "Liberation Sans", "color": "black"},
            "encoding": {"x": {"datum": 476, "type": "quantitative"}, "y": {"datum": 42, "type": "quantitative", "axis": null}, "text": {"field": "t", "type": "nominal"}}
          }
        ]
      }
    ],
    "spacing": 95,
    "bounds": "flush",
    "resolve": {"scale": {"color": "independent"}}
  }
]
}
